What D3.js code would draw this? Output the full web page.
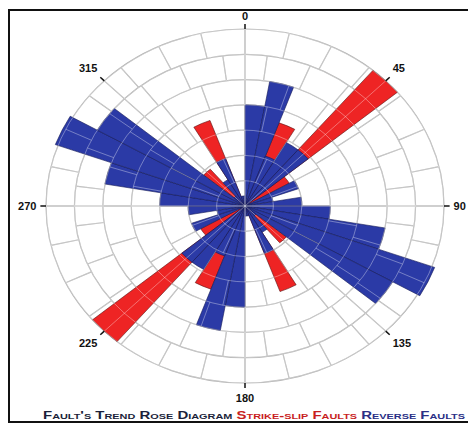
<!DOCTYPE html>
<html>
<head>
<meta charset="utf-8">
<script src="https://cdn.jsdelivr.net/npm/d3@7"></script>
<style>
  html, body { margin: 0; padding: 0; background: #fff; }
  svg { display: block; }
</style>
</head>
<body>
<svg id="chart" width="468" height="425"></svg>
<script>
// 10-degree trend bins (start azimuth); each bin is mirrored at +180 degrees
const binStarts = [0, 10, 20, 30, 40, 50, 60, 70, 80, 90, 100, 110, 120, 130, 140, 150, 160, 170];
// Reverse faults (blue) and strike-slip faults (red), per bin
const reverseFaults    = [4.0, 5.0, 2.1, 2.9, 2.9, 0.2, 2.0, 1.0, 2.0, 3.0, 5.0, 7.1, 6.0, 0.5, 1.2, 2.0, 0.4, 0.4];
const strikeSlipFaults = [0, 0, 3.5, 0, 7.0, 1.8, 0, 0, 0, 0, 0, 0, 0, 1.9, 0, 3.6, 0, 0];
// Ring values, cells per ring band, and azimuth labels
const ringValues = [1, 2, 3, 4, 5, 6, 7];
const cellsPerBand = [4, 8, 12, 16, 20, 24, 28];
const azimuthLabels = [0, 45, 90, 135, 180, 225, 270, 315];

const svg = d3.select("#chart");
const cx = 245, cy = 206, R = 177, xStretch = 199 / 177;

const r = d3.scaleLinear().domain([0, 7]).range([0, R]);
const toRad = d => d * Math.PI / 180;

// frame
svg.append("rect").attr("x", 9).attr("y", 10).attr("width", 470).attr("height", 412)
  .attr("fill", "none").attr("stroke", "#111").attr("stroke-width", 2);

const g = svg.append("g").attr("transform", `translate(${cx},${cy}) scale(${xStretch},1)`);

function bins(values) {
  const out = [];
  binStarts.forEach((s, i) => {
    if (values[i] > 0) {
      out.push({ start: s, v: values[i] });
      out.push({ start: s + 180, v: values[i] });
    }
  });
  return out;
}

const arc = d3.arc()
  .innerRadius(0)
  .outerRadius(d => r(d.v))
  .startAngle(d => toRad(d.start))
  .endAngle(d => toRad(d.start + 10));

// grid geometry: rings, main azimuth spokes, and staggered cell spokes per band
const spokes = [];
azimuthLabels.forEach(a => spokes.push({ a, r0: 0, r1: 7 }));
cellsPerBand.forEach((n, i) => {
  const step = 360 / n, off = (i % 2 === 0) ? 0 : step / 2;
  for (let j = 0; j < n; j++) spokes.push({ a: off + j * step, r0: i, r1: i + 1 });
});
function drawGrid(parent, color, opacity, width) {
  const grid = parent.append("g").attr("fill", "none").attr("stroke", color)
    .attr("stroke-opacity", opacity).attr("stroke-width", width);
  grid.selectAll("circle").data(ringValues).join("circle")
    .attr("r", d => r(d)).attr("vector-effect", "non-scaling-stroke");
  grid.selectAll("line").data(spokes).join("line")
    .attr("x1", d => r(d.r0) * Math.sin(toRad(d.a)))
    .attr("y1", d => -r(d.r0) * Math.cos(toRad(d.a)))
    .attr("x2", d => r(d.r1) * Math.sin(toRad(d.a)))
    .attr("y2", d => -r(d.r1) * Math.cos(toRad(d.a)))
    .attr("vector-effect", "non-scaling-stroke");
}

drawGrid(g, "#ababab", 1, 1.2);

// strike-slip wedges behind, reverse wedges in front
g.append("g").selectAll("path").data(bins(strikeSlipFaults)).join("path")
  .attr("d", arc).attr("fill", "#ee2424")
  .attr("stroke", "#5a1010").attr("stroke-width", 0.6).attr("vector-effect", "non-scaling-stroke");
g.append("g").selectAll("path").data(bins(reverseFaults)).join("path")
  .attr("d", arc).attr("fill", "#2b3aa6")
  .attr("stroke", "#141a55").attr("stroke-width", 0.6).attr("vector-effect", "non-scaling-stroke");

// faint light grid showing through the wedges
drawGrid(g, "#ffffff", 0.35, 1);

// azimuth ticks and labels
const lab = svg.append("g").attr("font-family", "Liberation Sans, Arial, sans-serif")
  .attr("font-weight", "bold").attr("font-size", 11).attr("fill", "#111");
const labelPos = {
  0:   { dx: 0,  dy: -8,  anchor: "middle" },
  45:  { dx: 3,  dy: -9,  anchor: "start" },
  90:  { dx: 4,  dy: 0,   anchor: "start" },
  135: { dx: 3,  dy: 8,   anchor: "start" },
  180: { dx: 0,  dy: 10,  anchor: "middle" },
  225: { dx: -3, dy: 8,   anchor: "end" },
  270: { dx: -4, dy: 0,   anchor: "end" },
  315: { dx: -3, dy: -9,  anchor: "end" }
};
azimuthLabels.forEach(a => {
  const s = Math.sin(toRad(a)), c = Math.cos(toRad(a));
  const px = rr => cx + rr * s * xStretch, py = rr => cy - rr * c;
  const ex = px(R + 5), ey = py(R + 5);
  lab.append("line").attr("x1", px(R)).attr("y1", py(R)).attr("x2", ex).attr("y2", ey)
    .attr("stroke", "#111").attr("stroke-width", 1.5);
  const p = labelPos[a];
  lab.append("text").attr("x", ex + p.dx).attr("y", ey + p.dy)
    .attr("text-anchor", p.anchor).attr("dominant-baseline", "central").text(a);
});

// legend line
const legend = svg.append("text").attr("x", 43).attr("y", 419)
  .attr("font-family", "Liberation Sans, Arial, sans-serif").attr("font-weight", "bold")
  .attr("font-size", 11).style("font-variant", "small-caps")
  .attr("textLength", 422).attr("lengthAdjust", "spacingAndGlyphs");
legend.append("tspan").attr("fill", "#1b1f3a").text("Fault's Trend Rose Diagram ");
legend.append("tspan").attr("fill", "#c81e1e").text("Strike-slip Faults ");
legend.append("tspan").attr("fill", "#2a2f86").text("Reverse Faults");
</script>
</body>
</html>
